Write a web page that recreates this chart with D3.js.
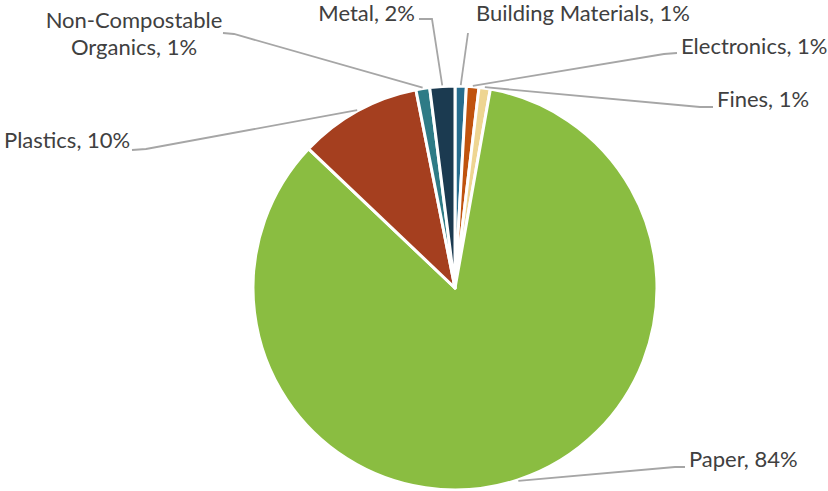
<!DOCTYPE html>
<html>
<head>
<meta charset="utf-8">
<script src="https://cdn.jsdelivr.net/npm/d3@7/dist/d3.min.js"></script>
<style>
  html, body { margin: 0; padding: 0; background: #fff; }
  svg { display: block; }
  text { font-family: Lato, "Open Sans", sans-serif; fill: #404040; }
</style>
</head>
<body>
<svg id="chart" width="828" height="491"></svg>
<script>
// Waste composition (share of total, %)
const categories = ["Building Materials", "Electronics", "Fines", "Paper", "Plastics", "Non-Compostable Organics", "Metal"];
const values = [0.9, 1.0, 0.9, 84.3, 9.8, 1.1, 2.0];
const colors = ["#276d8e", "#c0530e", "#eed592", "#8abd41", "#a53f1f", "#2e7b86", "#1b3a50"];

// Label placement: text anchor point, alignment, and leader-line elbow
const labelLayout = [
  { x: 476, y: 21, anchor: "start", lines: null, elbow: [[468, 33]] },
  { x: 681, y: 54, anchor: "start", lines: null, elbow: [[677, 53], [664, 54]] },
  { x: 717, y: 107, anchor: "start", lines: null, elbow: [[713, 107], [700, 107]] },
  { x: 689, y: 467, anchor: "start", lines: null, elbow: [[685, 467], [675, 467]] },
  { x: 4, y: 148, anchor: "start", lines: null, elbow: [[132, 150], [146, 149]] },
  { x: 134, y: 28, anchor: "middle", lines: ["Non-Compostable", "Organics, 1%"], elbow: [[223, 33], [234, 34]] },
  { x: 415, y: 21, anchor: "end", lines: null, elbow: [[419, 19], [432, 19]] }
];

const svg = d3.select("#chart");
const cx = 455, cy = 288, radius = 202;

const total = d3.sum(values);
const data = categories.map((c, i) => ({ name: c, value: values[i], color: colors[i], layout: labelLayout[i] }));

const pie = d3.pie().value(d => d.value).sort(null).startAngle(0).endAngle(2 * Math.PI);
const arc = d3.arc().innerRadius(0).outerRadius(radius);
const arcs = pie(data);

const g = svg.append("g").attr("transform", `translate(${cx},${cy})`);

g.selectAll("path.slice")
  .data(arcs)
  .join("path")
  .attr("class", "slice")
  .attr("d", arc)
  .attr("fill", d => d.data.color)
  .attr("stroke", "#fff")
  .attr("stroke-width", 3)
  .attr("stroke-linejoin", "round");

// Leader lines from label elbow to slice edge midpoint
const lineGen = d3.line();
svg.selectAll("path.leader")
  .data(arcs)
  .join("path")
  .attr("class", "leader")
  .attr("fill", "none")
  .attr("stroke", "#a6a6a6")
  .attr("stroke-width", 1.8)
  .attr("d", d => {
    const mid = (d.startAngle + d.endAngle) / 2;
    const r = radius + 1;
    const end = [cx + r * Math.sin(mid), cy - r * Math.cos(mid)];
    return lineGen([...d.data.layout.elbow, end]);
  });

// Labels
const fmt = v => Math.round(v / total * 100) + "%";
arcs.forEach(d => {
  const L = d.data.layout;
  const lines = L.lines || [`${d.data.name}, ${fmt(d.data.value)}`];
  const t = svg.append("text")
    .attr("x", L.x)
    .attr("y", L.y)
    .attr("text-anchor", L.anchor)
    .attr("font-size", 22);
  lines.forEach((ln, i) => {
    t.append("tspan").attr("x", L.x).attr("dy", i === 0 ? 0 : 27).text(ln);
  });
});
</script>
</body>
</html>
